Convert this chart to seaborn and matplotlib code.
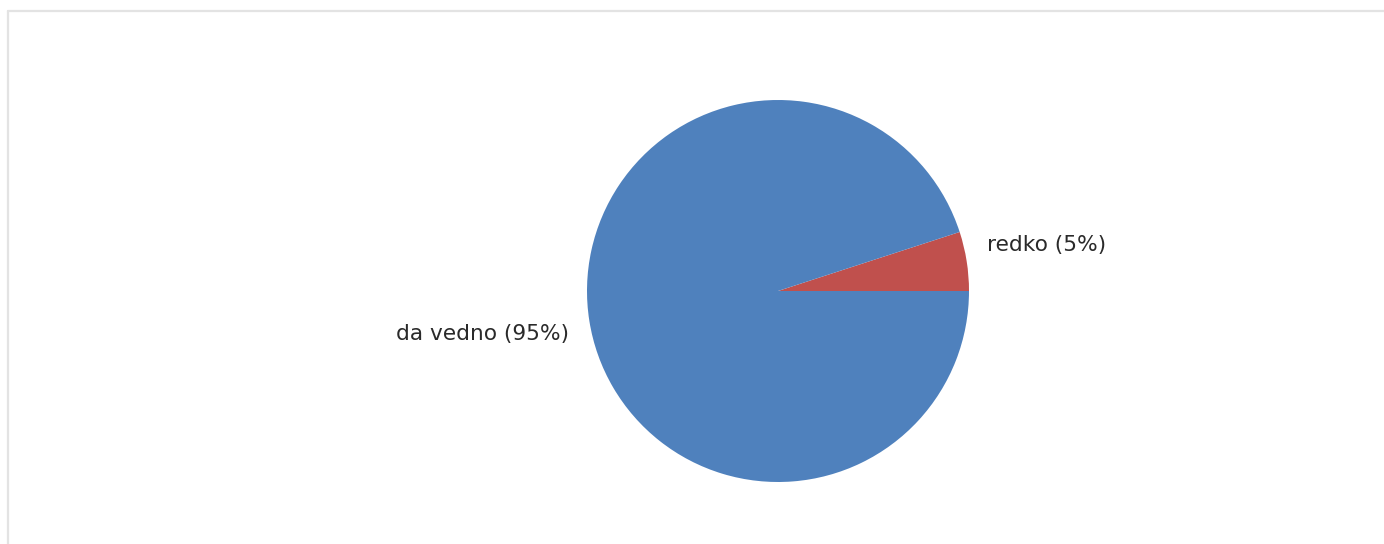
import matplotlib
matplotlib.use("Agg")
import matplotlib.pyplot as plt
from matplotlib.lines import Line2D
import seaborn as sns

categories = ["redko", "da vedno"]
shares = [5, 95]
slice_colors = ["#C0504D", "#4F81BD"]

sns.set_theme(style="white")
plt.rcParams["font.family"] = ["DejaVu Sans"]

fig = plt.figure(figsize=(13.84, 5.44), dpi=100)
fig.patch.set_facecolor("white")

# light frame along the top and left edges
fig.add_artist(Line2D([8 / 1384, 8 / 1384], [0, 1 - 10.5 / 544],
                      color="#e3e3e3", lw=1.6, transform=fig.transFigure))
fig.add_artist(Line2D([8 / 1384, 1], [1 - 10.5 / 544, 1 - 10.5 / 544],
                      color="#e3e3e3", lw=1.6, transform=fig.transFigure))

r_px = 191
cx, cy = 778, 544 - 291
ax = fig.add_axes([(cx - r_px) / 1384, (cy - r_px) / 544,
                   2 * r_px / 1384, 2 * r_px / 544])

labels = [f"{c} ({v}%)" for c, v in zip(categories, shares)]
wedges, texts = ax.pie(shares, labels=labels, colors=slice_colors,
                       startangle=0, counterclock=True,
                       labeldistance=1.11,
                       wedgeprops=dict(linewidth=0),
                       textprops=dict(fontsize=15.6, color="#2a2a2a"))
texts[0].set_y(texts[0].get_position()[1] + 0.065)
texts[1].set_y(texts[1].get_position()[1] - 0.05)
ax.set_xlim(-1, 1)
ax.set_ylim(-1, 1)
ax.set_aspect("equal")
ax.axis("off")

fig.savefig("out.png", dpi=100, facecolor="white")
